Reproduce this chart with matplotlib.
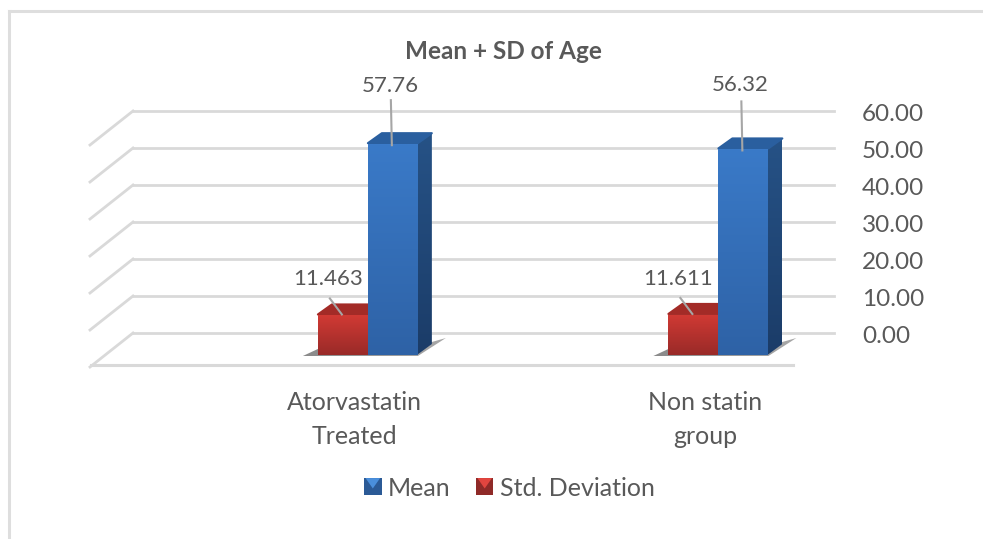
import numpy as np
import matplotlib
matplotlib.use("Agg")
import matplotlib.pyplot as plt
from matplotlib.patches import Polygon, Rectangle
from matplotlib.legend_handler import HandlerBase
from matplotlib.colors import LinearSegmentedColormap
from matplotlib.transforms import ScaledTranslation

plt.rcParams['font.family'] = ['Lato', 'DejaVu Sans']

categories = ["Atorvastatin\nTreated", "Non statin\ngroup"]
mean_values = [57.76, 56.32]
std_values = [11.463, 11.611]
mean_labels = ["57.76", "56.32"]
std_labels = ["11.463", "11.611"]
y_ticks = [0, 10, 20, 30, 40, 50, 60]

W, H = 983, 539
TXT = "#595959"
GRID = "#d9d9d9"

fig = plt.figure(figsize=(W / 100, H / 100), dpi=100, facecolor="white")
# back wall of the 3-D box
L, R, T, B = 133, 834, 111, 333
ax = fig.add_axes([L / W, 1 - B / H, (R - L) / W, (B - T) / H])
ax.set_xlim(-0.633, 1.367)
ax.set_ylim(0, 60)
SX = (R - L) / 2.0
SY = (B - T) / 60.0
BAR_SCALE = 3.65 / SY
STD_SCALE = 3.45 / SY


def px(cat, dx, val=0.0, dy=0.0, scale=1.0):
    """Data position of a category/value, shifted by screen pixels (dy downward)."""
    return cat + dx / SX, val * scale - dy / SY


for s in ax.spines.values():
    s.set_visible(False)
ax.patch.set_alpha(0)
ax.yaxis.tick_right()
ax.set_yticks(y_ticks)
ax.set_yticklabels([f"{v:.2f}" for v in y_ticks], fontsize=17.5, color=TXT)
ax.tick_params(axis="y", length=0, pad=20)
down = ScaledTranslation(0, -1.5 / 100, fig.dpi_scale_trans)
for lab in ax.get_yticklabels():
    lab.set_transform(lab.get_transform() + down)
ax.set_xticks([0, 1])
ax.set_xticklabels(categories, fontsize=18, color=TXT, linespacing=1.58)
ax.tick_params(axis="x", length=0, pad=42)
ax.set_axisbelow(True)
ax.yaxis.grid(True, color=GRID, lw=2)
for g in ax.get_ygridlines():
    g.set_clip_on(False)

# side wall lines and floor
xl = ax.get_xlim()[0]
for v in y_ticks:
    ax.plot([xl, xl - 43 / SX], [v, v - 34 / SY], color=GRID, lw=2, clip_on=False, zorder=1)
ax.plot([xl - 42 / SX, xl - 42 / SX + (793 - 91) / SX], [-32 / SY, -32 / SY], color=GRID, lw=2.2,
        clip_on=False, zorder=1)


def gradient_poly(points, c_start, c_end, horizontal=False, z=3):
    pts = np.array(points)
    poly = Polygon(pts, closed=True, transform=ax.transData, fc="none", ec="none", zorder=z,
                   clip_on=False)
    ax.add_patch(poly)
    cmap = LinearSegmentedColormap.from_list("g", [c_start, c_end])
    grad = np.linspace(0, 1, 128).reshape(1, -1) if horizontal else np.linspace(0, 1, 128).reshape(-1, 1)
    im = ax.imshow(grad, cmap=cmap, aspect="auto", origin="upper", zorder=z,
                   extent=(pts[:, 0].min(), pts[:, 0].max(), pts[:, 1].min(), pts[:, 1].max()))
    im.set_clip_box(fig.bbox)
    im.set_clip_path(poly)
    return poly


BASE = 22  # front of the bars sits this many pixels below the back wall's zero


def bar3d(cat, x0, x1, val, scale, front, side, top):
    t0, t1 = front
    gradient_poly([px(cat, x1 - 1, val, BASE, scale), px(cat, x1 + 14, val, BASE - 11, scale),
                   px(cat, x1 + 14, 0, BASE - 11), px(cat, x1 - 1, 0, BASE)], side[0], side[1], z=3.5)
    ax.add_patch(Polygon([px(cat, x0, val, BASE - 1, scale), px(cat, x0 + 14, val, BASE - 11, scale),
                          px(cat, x1 + 14, val, BASE - 11, scale), px(cat, x1, val, BASE - 1, scale)],
                         closed=True, fc=top, ec=top, lw=1.5, joinstyle="round", zorder=3.6, clip_on=False))
    gradient_poly([px(cat, x0, val, BASE, scale), px(cat, x1, val, BASE, scale),
                   px(cat, x1, 0, BASE), px(cat, x0, 0, BASE)], t0, t1, z=4)


for i in range(len(categories)):
    gradient_poly([px(i, -52, 0, BASE + 1), px(i, -37, 0, BASE - 6), px(i, 77, 0, BASE - 13),
                   px(i, 91, 0, BASE - 17), px(i, 63, 0, BASE + 1)], "#8a8a8a", "#a8a8a8", horizontal=True, z=2)
    bar3d(i, 13, 63, mean_values[i], BAR_SCALE, ("#3a7ac8", "#2e62a6"), ("#265286", "#1b3c68"), "#2a5f9f")
    bar3d(i, -37, 13, std_values[i], STD_SCALE, ("#d13a34", "#992a28"), ("#8a2421", "#7a201e"), "#a32b27")

ax.set_xlim(-0.633, 1.367)
ax.set_ylim(0, 60)

# data labels with leader lines
for i in range(len(categories)):
    top = mean_values[i] * BAR_SCALE
    x0, y0 = px(i, 37, top, BASE + 1)
    x1, y1 = px(i, 36, top, BASE - 44 - (i * 4))
    ax.plot([x0, x1], [y0, y1], color="#a6a6a6", lw=1.5, clip_on=False, zorder=6)
    tx, ty = px(i, 35, top, BASE - 58 - i * 6)
    ax.text(tx, ty, mean_labels[i], ha="center", va="center", fontsize=16, color=TXT, zorder=7)

    top = std_values[i] * STD_SCALE
    x0, y0 = px(i, -13, top, BASE - 1)
    x1, y1 = px(i, -25, top, BASE - 17)
    ax.plot([x0, x1], [y0, y1], color="#a6a6a6", lw=1.5, clip_on=False, zorder=6)
    tx, ty = px(i, -27, top, BASE - 36)
    ax.text(tx, ty, std_labels[i], ha="center", va="center", fontsize=16, color=TXT, zorder=7)


class CubeHandler(HandlerBase):
    def __init__(self, dark, light):
        super().__init__()
        self.dark, self.light = dark, light

    def create_artists(self, legend, orig, xd, yd, width, height, fontsize, trans):
        s = 12.5
        y = -yd + (height - s) / 2
        x = -xd + width - s
        r = Rectangle((x, y), s, s, fc=self.dark, ec="none", transform=trans)
        t = Polygon([(x + 1, y + s), (x + s - 1, y + s), (x + s / 2, y + s * 0.4)], closed=True,
                    fc=self.light, ec="none", transform=trans)
        return [r, t]


h_mean = Rectangle((0, 0), 1, 1)
h_std = Rectangle((0, 0), 1, 1)
fig.legend([h_mean, h_std], ["Mean", "Std. Deviation"],
           handler_map={h_mean: CubeHandler("#2b5a96", "#4a8fdc"), h_std: CubeHandler("#8f2a28", "#e2453f")},
           loc="center", bbox_to_anchor=(509 / W, 1 - 488 / H), ncol=2, frameon=False, fontsize=18,
           labelcolor=TXT, handlelength=0.72, handletextpad=0.25, columnspacing=1.0)

fig.text(503 / W, 1 - 51.5 / H, "Mean + SD of Age", ha="center", va="center", fontsize=17.5, fontweight="bold",
         color=TXT)

# outer frame fragments
frame = dict(color="#dedede", lw=2.2, transform=fig.transFigure, clip_on=False)
fig.add_artist(plt.Line2D([8.5 / W, 8.5 / W], [0, 1 - 10.5 / H], **frame))
fig.add_artist(plt.Line2D([8.5 / W, 1], [1 - 10.5 / H, 1 - 10.5 / H], **frame))

fig.savefig("out.png", dpi=100)
